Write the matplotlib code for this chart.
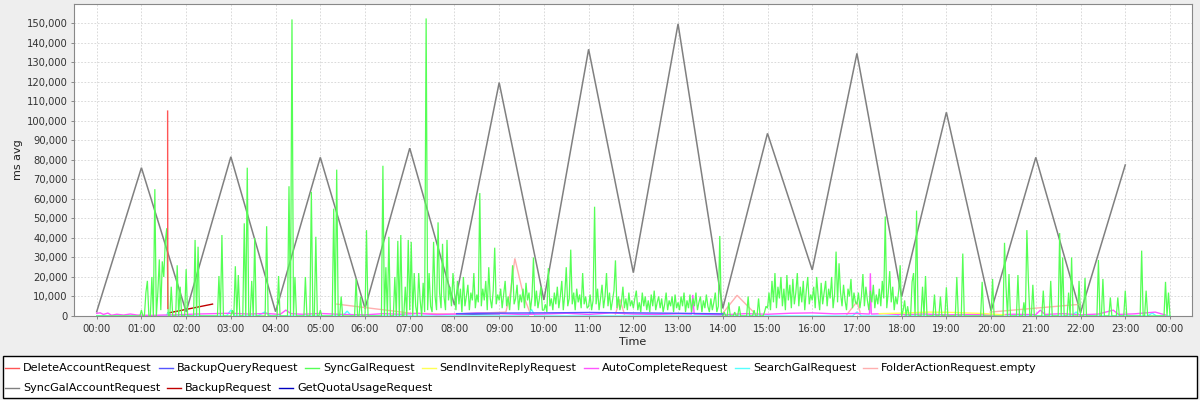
import numpy as np
import matplotlib
matplotlib.use("Agg")
import matplotlib.pyplot as plt
from matplotlib.ticker import FuncFormatter
from matplotlib.lines import Line2D
from matplotlib.patches import Rectangle

# ---------------- data (times in hours, values in thousands of ms) ----------------
series_names = ["DeleteAccountRequest", "BackupQueryRequest", "SyncGalRequest",
                "SendInviteReplyRequest", "AutoCompleteRequest", "SearchGalRequest",
                "FolderActionRequest.empty", "SyncGalAccountRequest", "BackupRequest",
                "GetQuotaUsageRequest"]
series_colors = ["#FF5555", "#5555FF", "#55FF55", "#FFFF55", "#FF55FF", "#55FFFF",
                 "#FFAFAF", "#808080", "#C00000", "#0000C0"]

hour_ticks = list(range(0, 25))
y_ticks_k = list(range(0, 160, 10))

delete_t = [1.586, 1.590]
delete_v = [105.0, 3.9]

backup_query_t = [8.05, 9.0, 10.0, 11.0, 12.0, 13.0, 14.0]
backup_query_v = [1.2, 1.5, 1.6, 1.8, 1.6, 1.4, 1.1]

# SyncGalRequest: one value every 2 minutes, one row per hour
sync_gal_step_min = 2
sync_gal_v = [
    0,0,0,0,0,0,0,0,0,0,0,0,0,0,0,0,0,0,0,0,0,0,0,0,0,0,0,0,0,0,
    3,0,0,12,18,0,0,20,0,65,0,12,29,3,28,20,38,45,0,0,15,0,0,0,26,0,15,0,0,0,
    24,0,0,0,0,0,39,0,35.5,0,0,0,0,0,0,0,0,0,0,0,0,0,20.5,0,41.5,0,0,0,0,0,
    0,3,0,25.5,0,21,0,0,0,47.5,0,76,0,0,18,0,40,0,0,0,0,0,0,0,46,0,0,0,0,0,
    0,0,20.5,0,0,0,0,0,0,66.5,0,152,0,20,0,0,0,0,0,0,20,0,0,0,63.6,0,0,40.6,0,0,
    3,0,0,0,0,0,0,0,0,55,0,75,0,0,10,0,0,0,0,0,0,0,0,0,19,0,0,10,0,0,
    0,44,0,0,0,0,0,0,0,0,0,0,77,0,25,0,40.6,0,0,0,20,0,38.5,0,41.5,0,0,15,0,39,
    3,38,0,22,5,0,22,8,0,17,2,152.5,3,22,5,2,38,10,3,48,12,4,37,10,3,39,8,15,5,22,
    12,3,18,6,14,2,20,5,10,16,3,12,8,22,4,11,7,63,5,14,8,18,3,25,9,4,13,35,6,11,
    8,14,4,11,18,5,10,3,13,26,6,9,16,3,11,7,14,4,17,8,12,3,10,30,5,13,4,9,15,3,
    3,6,2,24.5,5,9,3,12,6,15,4,10,18,3,11,25,5,9,34,6,12,3,14,7,11,4,22,6,10,4,
    5,11,3,8,56,6,14,3,9,16,4,10,22,5,12,3,8,13,28.5,4,10,3,7,15,4,9,3,12,5,8,
    4,9,13,3,7,2,12,5,10,3,8,2,11,5,13,3,7,10,4,9,2,6,12,3,8,5,10,2,11,4,
    7,3,10,5,12,2,8,4,11,2,9,5,12,3,7,10,2,8,4,11,5,2,9,3,7,12,2,5,41,2,
    0,2,0,0,7,0,0,0,2,0,0,5,0,0,0,0,0,10,0,0,0,3,0,0,9,0,0,0,2,5,
    4,12,3,18,7,22,4,15,9,20,5,14,3,21,8,16,4,19,6,12,22,5,15,7,18,3,13,20,6,11,
    8,15,4,20,10,3,17,6,12,18,5,14,9,20,4,11,33,7,27,12,5,16,8,3,14,10,19,4,12,7,
    6,12,4,10,21.5,5,15,8,3,13,7,16,4,11,6,14,5,18,9,51,4,12,23,7,15,3,10,6,13,26,
    0,3,8,0,5,0,0,17.5,22,0,54,0,0,0,15,0,20.5,0,0,0,0,0,11,0,0,0,10,0,0,0,
    14.7,0,0,0,0,0,0,20,0,0,0,32,0,0,0,0,0,0,0,0,0,0,0,0,17.5,0,0,0,0,0,
    0,19,0,0,0,0,0,0,0,37.5,15,0,21.5,0,0,0,0,0,21,0,0,0,7,0,44,18,0,0,16,0,
    0,0,0,0,0,13,0,0,0,0,18,0,0,0,0,0,42.5,0,30,0,0,0,12,0,30,0,0,0,0,18,
    0,0,0,19.5,0,0,0,0,0,0,0,0,28.7,0,0,19,0,0,0,0,9.5,0,0,0,0,9.5,0,0,0,0,
    13,0,0,0,0,0,0,0,0,0,0,33.5,0,0,13,0,0,0,0,0,0,0,0,0,0,0,0,17.5,0,12,
    0,
]

send_invite_t = [17.5, 18.0, 18.6, 19.2, 19.8, 20.3]
send_invite_v = [1.2, 1.5, 2.0, 1.8, 1.3, 0.6]

auto_t = [0.0, 0.08, 0.15, 0.25, 0.33, 0.45, 0.6, 0.75, 0.9, 1.2, 1.5, 1.8, 2.2, 2.6, 3.0,
          3.4, 3.8, 4.1, 4.23, 4.35, 4.6, 5.0, 5.5, 6.0, 6.4, 6.8, 7.2, 7.6, 8.0, 8.5,
          9.0, 9.5, 10.0, 10.5, 11.0, 11.5, 12.0, 12.5, 13.0, 13.3, 13.33, 13.36, 13.7,
          14.0, 14.5, 15.0, 15.5, 16.0, 16.5, 17.0, 17.28, 17.3, 17.32, 17.6, 18.0,
          18.5, 19.0, 19.5, 20.0, 20.5, 21.0, 21.1, 21.2, 21.6, 22.0, 22.4, 22.73,
          22.85, 23.2, 23.67, 23.9]
auto_v = [1.4, 1.6, 0.8, 1.5, 0.4, 0.9, 0.5, 1.0, 0.5, 0.3, 0.5, 0.6, 1.0, 1.2, 1.4,
          1.0, 1.3, 0.8, 3.0, 1.2, 0.9, 1.3, 0.8, 0.6, 1.2, 0.9, 1.3, 0.7, 1.0, 1.5,
          1.2, 0.8, 1.0, 1.4, 0.8, 1.6, 1.0, 0.8, 1.1, 1.0, 10.8, 1.0, 0.8,
          0.6, 1.2, 0.9, 1.4, 1.6, 1.1, 1.3, 1.0, 21.9, 1.0, 1.2, 0.7,
          1.0, 0.6, 0.8, 0.5, 0.9, 0.7, 3.0, 0.8, 1.2, 0.6, 1.0, 3.0,
          0.8, 1.1, 2.0, 0.5]

search_t = [0.0, 1.55, 1.6, 1.65, 2.9, 3.0, 3.1, 3.6, 3.75, 3.9, 5.5, 5.6, 5.7,
            9.65, 9.72, 9.8, 16.9, 17.0, 17.1, 17.9, 18.0, 18.1, 21.8, 21.9, 22.0,
            23.5, 23.6, 23.7, 24.0]
search_v = [0, 0, 2.0, 0, 0, 3.0, 0, 0, 2.0, 0, 0, 2.5, 0, 0, 3.5, 0, 0, 2.0, 0,
            0, 1.5, 0, 0, 2.0, 0, 0, 1.5, 0, 0]

nan = float("nan")
folder_t = [5.37, 7.04, 8.0, 9.15, 9.25, 9.35, 9.55, 9.7, nan, 11.6, 11.7, 11.8, nan,
            14.0, 14.32, 14.68, nan, 16.77, 17.0, 17.07, nan, 19.98, 21.99]
folder_v = [6.1, 1.4, 1.0, 2.0, 12.0, 29.5, 10.0, 1.0, nan, 1.0, 8.5, 1.0, nan,
            1.4, 10.6, 2.2, nan, 0.6, 7.3, 2.0, nan, 2.0, 6.0]

sync_acct_t = list(range(0, 24))
sync_acct_v = [2.2, 76, 2.2, 81.6, 2.2, 81.3, 3.9, 86, 5.6, 119.6, 8.2, 136.7,
               22.2, 149.7, 3.9, 93.6, 23.6, 134.6, 9.9, 104.4, 2.6, 81.3, 1.7, 77.4]

backup_t = [1.59, 2.59]
backup_v = [1.5, 6.1]

quota_t = [8.05, 8.5, 9.0]
quota_v = [1.0, 1.1, 1.2]

# ---------------- figure ----------------
plt.rcParams["font.family"] = ["DejaVu Sans"]
W, H = 1200, 400
fig = plt.figure(figsize=(12, 4), dpi=100, facecolor="#EEEEEE")
left, right, top, bottom = 74, 1192, 4.3, 316
ax = fig.add_axes([left / W, (H - bottom) / H, (right - left) / W, (bottom - top) / H])
ax.set_facecolor("white")

sync_gal_t = np.arange(len(sync_gal_v)) * sync_gal_step_min / 60.0

data = [
    (delete_t, delete_v), (backup_query_t, backup_query_v), (sync_gal_t, sync_gal_v),
    (send_invite_t, send_invite_v), (auto_t, auto_v), (search_t, search_v),
    (folder_t, folder_v), (sync_acct_t, sync_acct_v), (backup_t, backup_v),
    (quota_t, quota_v),
]
widths = [1.0, 1.0, 0.9, 1.0, 1.0, 1.0, 1.0, 1.1, 1.0, 1.0]
n = len(data)
for i, ((t, v), c, lw) in enumerate(zip(data, series_colors, widths)):
    ax.plot(np.asarray(t, float), np.asarray(v, float) * 1000, color=c, lw=lw,
            zorder=3 + (n - i) * 0.1, solid_joinstyle="miter", antialiased=True)

ax.set_xlim((left - 96.7) / 44.72, (right - 96.7) / 44.72)
ax.set_ylim(0, (bottom - top) / 1.9513 * 1000)

ax.set_xticks(hour_ticks)
ax.xaxis.set_major_formatter(FuncFormatter(lambda h, p: f"{int(round(h)) % 24:02d}:00"))
ax.set_yticks([k * 1000 for k in y_ticks_k])
ax.yaxis.set_major_formatter(FuncFormatter(lambda v, p: f"{int(round(v)):,}"))

ax.grid(True, color="#D4D4D4", linestyle=(0, (2, 2)), linewidth=0.6, zorder=1)
ax.set_axisbelow(True)
for s in ax.spines.values():
    s.set_color("#888888")
    s.set_linewidth(0.8)
ax.tick_params(axis="both", direction="out", length=2, width=0.7, color="#888888",
               labelsize=7.2, labelcolor="#333333", pad=2.5)
ax.tick_params(axis="x", pad=3.5)

fig.text(633 / W, 1 - 342 / H, "Time", ha="center", va="center", fontsize=8, color="#222222")
fig.text(18 / W, 1 - 160 / H, "ms avg", ha="center", va="center", rotation=90,
         fontsize=8, color="#222222")

# ---------------- legend (flow layout in a box) ----------------
fig.patches.append(Rectangle((3 / W, 2 / H), 1194 / W, 42 / H, transform=fig.transFigure,
                             facecolor="white", edgecolor="black", linewidth=1.0, zorder=0))
rows = [list(range(0, 7)), list(range(7, 10))]
row_y = [368, 388]
renderer = fig.canvas.get_renderer()
for row, yy in zip(rows, row_y):
    x = 5
    for i in row:
        fy = 1 - yy / H
        fig.lines.append(Line2D([x / W, (x + 14) / W], [fy, fy], transform=fig.transFigure,
                                color=series_colors[i], lw=1.0))
        t = fig.text((x + 18) / W, fy, series_names[i], ha="left", va="center",
                     fontsize=8.1, color="black")
        bb = t.get_window_extent(renderer=renderer)
        x = bb.x1 + 7

fig.savefig("out.png", dpi=100, facecolor=fig.get_facecolor())
